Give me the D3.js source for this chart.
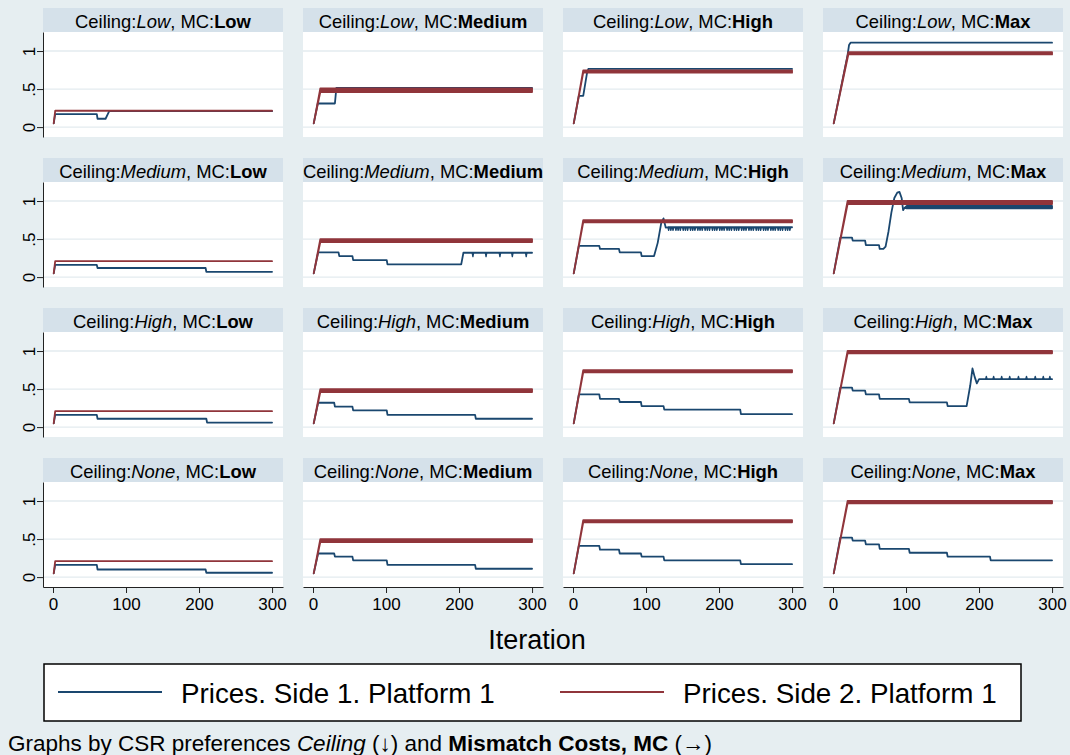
<!DOCTYPE html>
<html>
<head>
<meta charset="utf-8">
<script src="https://cdn.jsdelivr.net/npm/d3@7"></script>
<style>
  body { margin: 0; background: #e6eef1; }
  svg { display: block; }
  text { font-family: "Liberation Sans", Arial, Helvetica, sans-serif; fill: #000; }
</style>
</head>
<body>
<svg id="chart" width="1070" height="755"></svg>
<script>
// ---- data -------------------------------------------------------------
const ceilingLevels = ["Low", "Medium", "High", "None"];
const mcLevels = ["Low", "Medium", "High", "Max"];
const xTicks = [0, 100, 200, 300];
const yTicks = [0, 0.5, 1];
const yTickLabels = ["0", ".5", "1"];
const seriesLabels = ["Prices. Side 1. Platform 1", "Prices. Side 2. Platform 1"];
const xTitle = "Iteration";

// Points are [iteration, value] or [iteration, low, high] where the price
// oscillates inside a narrow band. One list per MC level (Low, Medium, High, Max).
const side1CeilingLow = [
  [[1, 0.05], [3, 0.17], [60, 0.17], [61, 0.11], [72, 0.11], [77, 0.21], [300, 0.21]],
  [[1, 0.05], [6.5, 0.31], [30, 0.31], [32, 0.515], [300, 0.515]],
  [[1, 0.05], [8, 0.41], [14, 0.41], [19, 0.70], [21, 0.765], [300, 0.765]],
  [[1, 0.05], [20, 0.95], [22, 1.08], [24, 1.11], [300, 1.11]]
];
const side1CeilingMedium = [
  [[1, 0.05], [3, 0.16], [60, 0.16], [61, 0.12], [209, 0.12], [210, 0.07], [300, 0.07]],
  [[1, 0.05], [7, 0.325], [35, 0.325], [36, 0.276], [54, 0.276], [55, 0.224], [101, 0.224],
   [102, 0.167], [203, 0.167], [206, 0.32], [300, 0.32]],
  [[1, 0.05], [8, 0.41], [36, 0.41], [37, 0.37], [63, 0.37], [64, 0.325], [93, 0.325],
   [94, 0.276], [111, 0.276], [116, 0.45], [121, 0.72], [124, 0.77], [127, 0.65], [130, 0.655], [300, 0.655]],
  [[1, 0.05], [10, 0.52], [26, 0.52], [27, 0.48], [44, 0.48], [45, 0.42], [63, 0.42], [64, 0.37],
   [69, 0.37], [72, 0.40], [76, 0.60], [80, 0.85], [84, 1.04], [88, 1.11], [91, 1.12], [94, 1.04],
   [96, 0.88], [98, 0.91], [101, 0.905, 0.935], [300, 0.905, 0.935]]
];
const side1CeilingHigh = [
  [[1, 0.05], [3, 0.16], [60, 0.16], [61, 0.11], [210, 0.11], [211, 0.06], [300, 0.06]],
  [[1, 0.05], [7, 0.32], [29, 0.32], [30, 0.27], [54, 0.27], [55, 0.22], [101, 0.22], [102, 0.16],
   [222, 0.16], [223, 0.11], [300, 0.11]],
  [[1, 0.05], [8, 0.43], [36, 0.43], [37, 0.37], [63, 0.37], [64, 0.33], [93, 0.33], [94, 0.276],
   [124, 0.276], [125, 0.23], [229, 0.23], [230, 0.17], [300, 0.17]],
  [[1, 0.05], [10, 0.52], [26, 0.52], [27, 0.48], [44, 0.48], [45, 0.43], [63, 0.43], [64, 0.37],
   [104, 0.37], [105, 0.325], [156, 0.325], [157, 0.276], [183, 0.276], [188, 0.55], [191, 0.77],
   [194, 0.66], [197, 0.575], [200, 0.63], [300, 0.63]]
];
const side1CeilingNone = [
  [[1, 0.05], [3, 0.16], [60, 0.16], [61, 0.10], [209, 0.10], [210, 0.057], [300, 0.057]],
  [[1, 0.05], [7, 0.31], [29, 0.31], [30, 0.27], [54, 0.27], [55, 0.22], [101, 0.22], [102, 0.16],
   [222, 0.16], [223, 0.11], [300, 0.11]],
  [[1, 0.05], [8, 0.41], [36, 0.41], [37, 0.36], [63, 0.36], [64, 0.31], [93, 0.31], [94, 0.27],
   [124, 0.27], [125, 0.22], [229, 0.22], [230, 0.17], [300, 0.17]],
  [[1, 0.05], [10, 0.52], [26, 0.52], [27, 0.48], [44, 0.48], [45, 0.43], [63, 0.43], [64, 0.37],
   [104, 0.37], [105, 0.32], [156, 0.32], [157, 0.27], [215, 0.27], [216, 0.22], [300, 0.22]]
];

const side2CeilingLow = [
  [[1, 0.05], [3, 0.215], [300, 0.215]],
  [[1, 0.05], [10, 0.46, 0.51], [300, 0.46, 0.51]],
  [[1, 0.05], [14, 0.715, 0.745], [300, 0.715, 0.745]],
  [[1, 0.05], [21, 0.955, 0.985], [300, 0.955, 0.985]]
];
const side2CeilingMedium = [
  [[1, 0.05], [3, 0.21], [300, 0.21]],
  [[1, 0.05], [10, 0.46, 0.50], [300, 0.46, 0.50]],
  [[1, 0.05], [14, 0.72, 0.75], [300, 0.72, 0.75]],
  [[1, 0.05], [20, 0.96, 1.0], [300, 0.96, 1.0]]
];
const side2CeilingHigh = [
  [[1, 0.05], [3, 0.21], [300, 0.21]],
  [[1, 0.05], [10, 0.46, 0.50], [300, 0.46, 0.50]],
  [[1, 0.05], [14, 0.72, 0.75], [300, 0.72, 0.75]],
  [[1, 0.05], [20, 0.97, 1.0], [300, 0.97, 1.0]]
];
const side2CeilingNone = [
  [[1, 0.05], [3, 0.21], [300, 0.21]],
  [[1, 0.05], [10, 0.46, 0.50], [300, 0.46, 0.50]],
  [[1, 0.05], [14, 0.72, 0.75], [300, 0.72, 0.75]],
  [[1, 0.05], [20, 0.97, 1.0], [300, 0.97, 1.0]]
];

// Short recurring price moves away from a resting level (side 1).
const side1Ripples = [
  { ceiling: "Medium", mc: "Medium", base: 0.32, tip: 0.27, at: [219, 237, 256, 273, 292] },
  { ceiling: "Medium", mc: "High", base: 0.655, tip: 0.615,
    at: [131, 134, 137, 141, 144, 147, 151, 154, 157, 161, 164, 167, 171, 174, 177, 181, 184, 187,
         191, 194, 197, 201, 204, 207, 211, 214, 217, 221, 224, 227, 231, 234, 237, 241, 244, 247,
         251, 254, 257, 261, 264, 267, 271, 274, 277, 281, 284, 287, 291, 294, 297] },
  { ceiling: "High", mc: "Max", base: 0.63, tip: 0.665,
    at: [210, 220, 231, 242, 254, 265, 277, 288, 297] }
];

const side1ByCeiling = [side1CeilingLow, side1CeilingMedium, side1CeilingHigh, side1CeilingNone];
const side2ByCeiling = [side2CeilingLow, side2CeilingMedium, side2CeilingHigh, side2CeilingNone];

// ---- layout -----------------------------------------------------------
const colors = ["#1a476f", "#90353b"];
const outerBg = "#e6eef1", stripBg = "#d5e1ea", gridColor = "#e3ebef";
const panelW = 240, stripH = 24, plotH = 105;
const colStep = 260, rowStep = 150;
const left0 = 43, top0 = 8;

const svg = d3.select("#chart");
svg.append("rect").attr("width", 1070).attr("height", 755).attr("fill", outerBg);

const x = d3.scaleLinear().domain([-13.7, 315]).range([0, panelW]);
const y = d3.scaleLinear().domain([-0.13, 1.25]).range([plotH, 0]);

const band = d3.area()
  .x(d => x(d[0]))
  .y0(d => y(d[1]))
  .y1(d => y(d.length > 2 ? d[2] : d[1]));
const line = d3.line().x(d => x(d[0])).y(d => y(d[1]));

ceilingLevels.forEach((ceil, r) => {
  mcLevels.forEach((mc, c) => {
    const gx = left0 + c * colStep, gy = top0 + r * rowStep;
    const g = svg.append("g").attr("transform", `translate(${gx},${gy})`);

    // title strip
    g.append("rect").attr("width", panelW).attr("height", stripH).attr("fill", stripBg);
    const t = g.append("text")
      .attr("x", panelW / 2).attr("y", stripH / 2 + 1)
      .attr("text-anchor", "middle").attr("dominant-baseline", "central")
      .attr("font-size", 18.4);
    t.append("tspan").text("Ceiling:");
    t.append("tspan").attr("font-style", "italic").text(ceil);
    t.append("tspan").text(", MC:");
    t.append("tspan").attr("font-weight", "bold").text(mc);

    // plot region
    const p = g.append("g").attr("transform", `translate(0,${stripH})`);
    p.append("rect").attr("width", panelW).attr("height", plotH).attr("fill", "#fff");
    p.selectAll("line.grid").data(yTicks).join("line")
      .attr("class", "grid")
      .attr("x1", 0).attr("x2", panelW)
      .attr("y1", d => y(d)).attr("y2", d => y(d))
      .attr("stroke", gridColor).attr("stroke-width", 1.3);

    // series: side 1 first, side 2 on top
    [side1ByCeiling, side2ByCeiling].forEach((src, s) => {
      p.append("path")
        .datum(src[r][c])
        .attr("d", band)
        .attr("fill", colors[s])
        .attr("stroke", colors[s])
        .attr("stroke-width", 1.8)
        .attr("stroke-linejoin", "round");
      if (s === 0) {
        side1Ripples.filter(q => q.ceiling === ceil && q.mc === mc).forEach(q => {
          q.at.forEach(it => {
            p.append("path")
              .datum([[it - 0.9, q.base], [it, q.tip], [it + 0.9, q.base]])
              .attr("d", line)
              .attr("fill", "none")
              .attr("stroke", colors[0])
              .attr("stroke-width", 1.4)
              .attr("stroke-linejoin", "round");
          });
        });
      }
    });

    // y axis on the first column
    if (c === 0) {
      const ay = p.append("g").call(
        d3.axisLeft(y).tickValues(yTicks).tickSize(6).tickSizeOuter(0)
          .tickFormat((d, i) => yTickLabels[i]));
      ay.select(".domain").attr("stroke", "#222");
      ay.selectAll(".tick line").attr("stroke", "#222");
      ay.selectAll(".tick text")
        .attr("x", null).attr("dy", null)
        .attr("font-size", 17).attr("fill", "#000")
        .attr("font-family", null)
        .attr("text-anchor", "middle")
        .attr("transform", "translate(-8,0) rotate(-90)");
    }
    // x axis on the bottom row
    if (r === ceilingLevels.length - 1) {
      const ax = p.append("g").attr("transform", `translate(0,${plotH})`).call(
        d3.axisBottom(x).tickValues(xTicks).tickSize(6).tickSizeOuter(0));
      ax.select(".domain").attr("stroke", "#222");
      ax.selectAll(".tick line").attr("stroke", "#222");
      ax.selectAll(".tick text")
        .attr("font-size", 17).attr("fill", "#000").attr("font-family", null)
        .attr("y", 11);
    }
  });
});

// axis title
svg.append("text")
  .attr("x", 537).attr("y", 640)
  .attr("text-anchor", "middle").attr("dominant-baseline", "central")
  .attr("font-size", 27).text(xTitle);

// legend
const lg = svg.append("g");
lg.append("rect").attr("x", 44).attr("y", 664).attr("width", 977).attr("height", 57)
  .attr("fill", "#fff").attr("stroke", "#000").attr("stroke-width", 1.5);
const legendX = [58, 560];
seriesLabels.forEach((lab, i) => {
  lg.append("line")
    .attr("x1", legendX[i]).attr("x2", legendX[i] + 104)
    .attr("y1", 692).attr("y2", 692)
    .attr("stroke", colors[i]).attr("stroke-width", 2);
  lg.append("text")
    .attr("x", legendX[i] + 123).attr("y", 693)
    .attr("dominant-baseline", "central")
    .attr("font-size", 27.8).text(lab);
});

// note
const note = svg.append("text").attr("x", 8).attr("y", 743)
  .attr("dominant-baseline", "central").attr("font-size", 22.5);
note.append("tspan").text("Graphs by CSR preferences ");
note.append("tspan").attr("font-style", "italic").text("Ceiling");
note.append("tspan").text(" (\u2193) and ");
note.append("tspan").attr("font-weight", "bold").text("Mismatch Costs, MC");
note.append("tspan").text(" (\u2192)");
</script>
</body>
</html>
